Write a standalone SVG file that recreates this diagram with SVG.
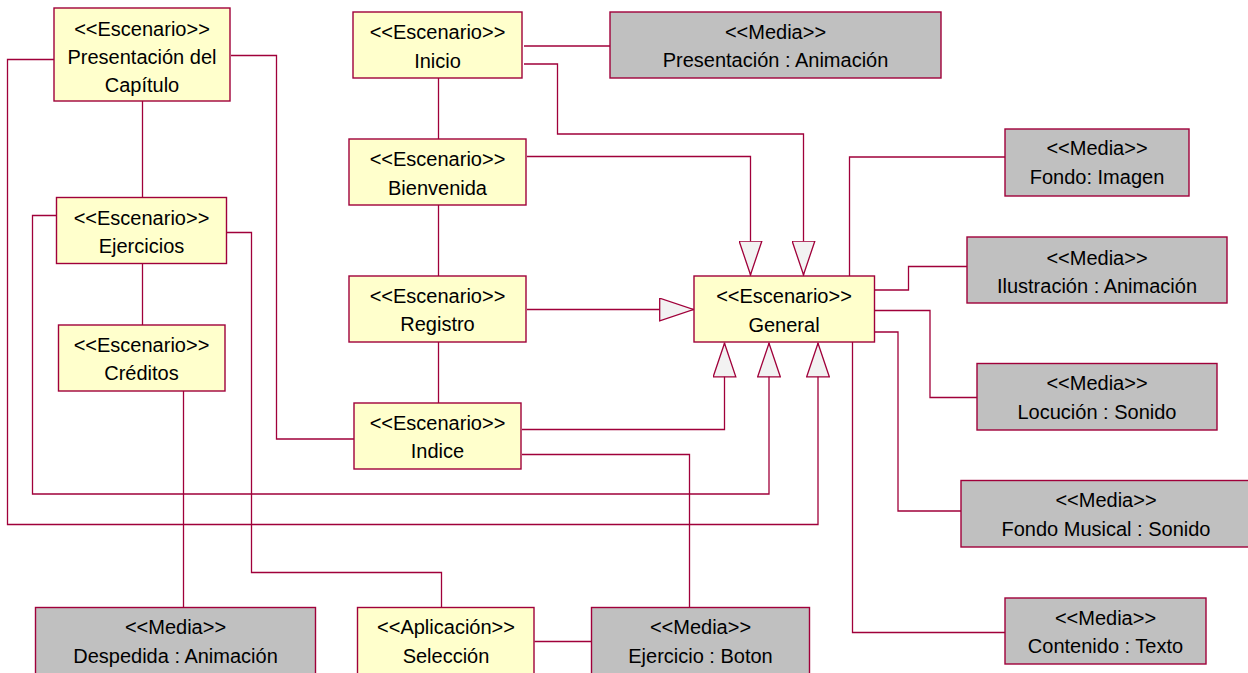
<svg xmlns="http://www.w3.org/2000/svg" width="1248" height="673" viewBox="0 0 1248 673">
  <defs>
    <style>
      .sc { fill: #FFFFCC; stroke: #A0003A; stroke-width: 1.4; }
      .md { fill: #C0C0C0; stroke: #A0003A; stroke-width: 1.4; }
      .lbl { font-family: "Liberation Sans", Arial, sans-serif; font-size: 20px; fill: #000; text-anchor: middle; }
      .cn { fill: none; stroke: #A0003A; stroke-width: 1.3; }
      .gen { marker-end: url(#hollow); }
    </style>
    <!-- hollow triangle for generalization -->
    <marker id="hollow" viewBox="0 0 35 24" refX="35" refY="12" markerWidth="35" markerHeight="24" markerUnits="userSpaceOnUse" orient="auto">
      <path d="M0.7,0.7 L34.3,12 L0.7,23.3 Z" fill="#F2F2F2" stroke="#A0003A" stroke-width="1.3"/>
    </marker>
  </defs>
  <rect width="1248" height="673" fill="#FFFFFF"/>

  <!-- connectors -->
  <g id="connectors">
    <polyline class="cn gen" points="54,59.5 7.5,59.5 7.5,524.5 818,524.5 818,342.5"/>
    <polyline class="cn" points="231,55.5 276.5,55.5 276.5,439 354,439"/>
    <line class="cn" x1="142.5" y1="101" x2="142.5" y2="197"/>
    <line class="cn" x1="142.5" y1="264" x2="142.5" y2="325"/>
    <polyline class="cn gen" points="56.5,215.5 32.5,215.5 32.5,494 769,494 769,342.5"/>
    <polyline class="cn" points="227,232.5 251.5,232.5 251.5,572.5 441.5,572.5 441.5,607.5"/>
    <line class="cn" x1="183.5" y1="391" x2="183.5" y2="607.5"/>
    <line class="cn" x1="524" y1="46" x2="610" y2="46"/>
    <polyline class="cn gen" points="524,64 557.5,64 557.5,134 803.5,134 803.5,275.5"/>
    <line class="cn" x1="438.5" y1="78" x2="438.5" y2="139"/>
    <polyline class="cn gen" points="527,156.5 750.5,156.5 750.5,275.5"/>
    <line class="cn" x1="438.5" y1="205" x2="438.5" y2="276"/>
    <line class="cn gen" x1="527" y1="309.5" x2="694" y2="309.5"/>
    <line class="cn" x1="438.5" y1="342" x2="438.5" y2="403"/>
    <polyline class="cn gen" points="522,429.5 724.5,429.5 724.5,342.5"/>
    <polyline class="cn" points="522,454.5 689.5,454.5 689.5,607.5"/>
    <line class="cn" x1="534.5" y1="641.5" x2="591.5" y2="641.5"/>
    <polyline class="cn" points="849.5,276 849.5,157 1005,157"/>
    <polyline class="cn" points="875,290 908.5,290 908.5,266.5 967,266.5"/>
    <polyline class="cn" points="875,310.5 930,310.5 930,397.5 977,397.5"/>
    <polyline class="cn" points="875,332 898,332 898,511 961,511"/>
    <polyline class="cn" points="852.5,342 852.5,632.5 1005,632.5"/>
  </g>

  <!-- scenario classes -->
  <g id="presentacion-capitulo">
    <rect class="sc" x="54" y="8" width="176" height="93"/>
    <text class="lbl" x="142" y="35.5">&lt;&lt;Escenario&gt;&gt;</text>
    <text class="lbl" x="142" y="63.5">Presentación del</text>
    <text class="lbl" x="142" y="91.5">Capítulo</text>
  </g>
  <g id="inicio">
    <rect class="sc" x="353" y="12" width="169" height="66"/>
    <text class="lbl" x="437.5" y="39">&lt;&lt;Escenario&gt;&gt;</text>
    <text class="lbl" x="437.5" y="67.5">Inicio</text>
  </g>
  <g id="bienvenida">
    <rect class="sc" x="349" y="139" width="177" height="66"/>
    <text class="lbl" x="437.5" y="166">&lt;&lt;Escenario&gt;&gt;</text>
    <text class="lbl" x="437.5" y="194.5">Bienvenida</text>
  </g>
  <g id="registro">
    <rect class="sc" x="349" y="276" width="177" height="66"/>
    <text class="lbl" x="437.5" y="303">&lt;&lt;Escenario&gt;&gt;</text>
    <text class="lbl" x="437.5" y="331">Registro</text>
  </g>
  <g id="indice">
    <rect class="sc" x="354" y="403" width="167" height="66"/>
    <text class="lbl" x="437.5" y="430">&lt;&lt;Escenario&gt;&gt;</text>
    <text class="lbl" x="437.5" y="458">Indice</text>
  </g>
  <g id="general">
    <rect class="sc" x="694" y="276" width="180.5" height="66"/>
    <text class="lbl" x="784" y="302.5">&lt;&lt;Escenario&gt;&gt;</text>
    <text class="lbl" x="784" y="331.5">General</text>
  </g>
  <g id="ejercicios">
    <rect class="sc" x="56.5" y="197.5" width="170" height="66"/>
    <text class="lbl" x="141.5" y="225">&lt;&lt;Escenario&gt;&gt;</text>
    <text class="lbl" x="141.5" y="253">Ejercicios</text>
  </g>
  <g id="creditos">
    <rect class="sc" x="58.5" y="325" width="166.5" height="66"/>
    <text class="lbl" x="141.5" y="351.5">&lt;&lt;Escenario&gt;&gt;</text>
    <text class="lbl" x="141.5" y="380">Créditos</text>
  </g>
  <g id="seleccion">
    <rect class="sc" x="357.5" y="607.5" width="176.5" height="70"/>
    <text class="lbl" x="446" y="634">&lt;&lt;Aplicación&gt;&gt;</text>
    <text class="lbl" x="446" y="663">Selección</text>
  </g>

  <!-- media classes -->
  <g id="presentacion-animacion">
    <rect class="md" x="610" y="12" width="331" height="66"/>
    <text class="lbl" x="775.5" y="39">&lt;&lt;Media&gt;&gt;</text>
    <text class="lbl" x="775.5" y="67">Presentación : Animación</text>
  </g>
  <g id="fondo-imagen">
    <rect class="md" x="1005" y="129" width="184" height="67"/>
    <text class="lbl" x="1097" y="155">&lt;&lt;Media&gt;&gt;</text>
    <text class="lbl" x="1097" y="184">Fondo: Imagen</text>
  </g>
  <g id="ilustracion">
    <rect class="md" x="967" y="237" width="260" height="66"/>
    <text class="lbl" x="1097" y="265">&lt;&lt;Media&gt;&gt;</text>
    <text class="lbl" x="1097" y="292.5">Ilustración : Animación</text>
  </g>
  <g id="locucion">
    <rect class="md" x="977" y="363.5" width="240" height="66.5"/>
    <text class="lbl" x="1097" y="390">&lt;&lt;Media&gt;&gt;</text>
    <text class="lbl" x="1097" y="419">Locución : Sonido</text>
  </g>
  <g id="fondo-musical">
    <rect class="md" x="961" y="480.5" width="290" height="66.5"/>
    <text class="lbl" x="1106" y="506.5">&lt;&lt;Media&gt;&gt;</text>
    <text class="lbl" x="1106" y="536">Fondo Musical : Sonido</text>
  </g>
  <g id="contenido">
    <rect class="md" x="1005" y="598" width="201" height="66"/>
    <text class="lbl" x="1105.5" y="625">&lt;&lt;Media&gt;&gt;</text>
    <text class="lbl" x="1105.5" y="653">Contenido : Texto</text>
  </g>
  <g id="despedida">
    <rect class="md" x="35.5" y="607.5" width="280" height="70"/>
    <text class="lbl" x="175.5" y="634">&lt;&lt;Media&gt;&gt;</text>
    <text class="lbl" x="175.5" y="663">Despedida : Animación</text>
  </g>
  <g id="ejercicio-boton">
    <rect class="md" x="591.5" y="607.5" width="218" height="70"/>
    <text class="lbl" x="700.5" y="634">&lt;&lt;Media&gt;&gt;</text>
    <text class="lbl" x="700.5" y="663">Ejercicio : Boton</text>
  </g>
</svg>
